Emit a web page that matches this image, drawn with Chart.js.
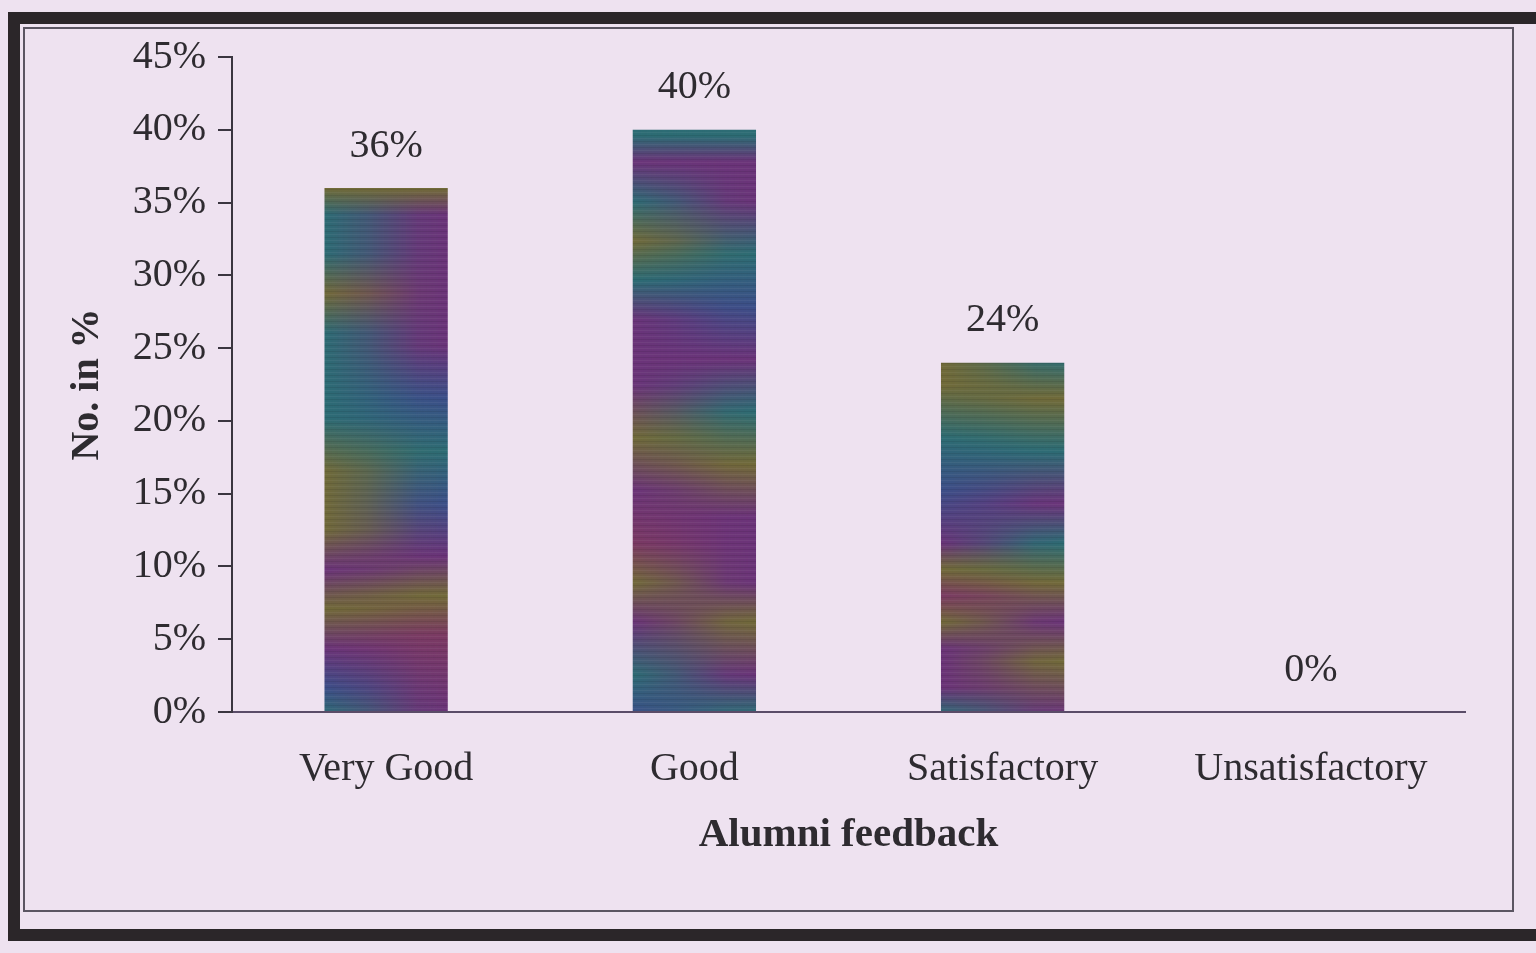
<!DOCTYPE html>
<html>
<head>
<meta charset="utf-8">
<title>Alumni feedback</title>
<script src="https://cdn.jsdelivr.net/npm/chart.js@4/dist/chart.umd.min.js"></script>
<style>
    html, body {
        margin: 0;
        padding: 0;
        width: 1536px;
        height: 953px;
        overflow: hidden;
        background: #eee2f0;
    }
    .frame-outer {
        position: absolute;
        left: 8px;
        top: 12px;
        width: 1600px;
        height: 929px;
        border: 12px solid #2b2629;
        box-sizing: border-box;
    }
    .frame-inner {
        position: absolute;
        left: 23px;
        top: 27px;
        width: 1491px;
        height: 885px;
        border: 2px solid #5b5562;
        box-sizing: border-box;
    }
    #feedbackChart {
        position: absolute;
        left: 0;
        top: 0;
    }
</style>
</head>
<body>
<div class="frame-outer"></div>
<div class="frame-inner"></div>
<canvas id="feedbackChart" width="1536" height="953"></canvas>

<script>
// Alumni feedback survey, share of responses per rating
const categories = ['Very Good', 'Good', 'Satisfactory', 'Unsatisfactory'];
const shares = [36, 40, 24, 0];
const axisMax = 45;
const axisStep = 5;

const FONT = "'Liberation Serif', 'Times New Roman', serif";
const TEXT_COLOR = '#2e2b30';
const BAR_WIDTH = 0.4;

// Colour bands for the shimmering bar fill (left edge / right edge, top to bottom)
const PURPLE = '#6b3479', TEAL = '#2d6c74', OLIVE = '#716a39', BLUE = '#3c4f88', PLUM = '#7b3a63';
const BAR_BANDS = [
    {
        left:  [[0, OLIVE], [0.2, OLIVE], [0.24, TEAL], [0.3, TEAL], [0.36, OLIVE], [0.42, TEAL], [0.55, TEAL], [0.63, OLIVE], [0.72, OLIVE], [0.78, PURPLE], [0.84, OLIVE], [0.9, PURPLE], [0.96, BLUE], [1, TEAL]],
        right: [[0, OLIVE], [0.2, OLIVE], [0.24, PURPLE], [0.36, PURPLE], [0.44, PURPLE], [0.52, BLUE], [0.6, TEAL], [0.68, BLUE], [0.76, PURPLE], [0.82, OLIVE], [0.88, PLUM], [1, PURPLE]]
    },
    {
        left:  [[0, TEAL], [0.12, TEAL], [0.16, PURPLE], [0.22, TEAL], [0.28, OLIVE], [0.34, TEAL], [0.4, PURPLE], [0.5, PURPLE], [0.58, OLIVE], [0.66, PURPLE], [0.74, PLUM], [0.8, OLIVE], [0.86, PURPLE], [0.94, TEAL], [1, BLUE]],
        right: [[0, TEAL], [0.12, TEAL], [0.16, PURPLE], [0.22, PURPLE], [0.3, TEAL], [0.38, BLUE], [0.46, PURPLE], [0.54, TEAL], [0.62, OLIVE], [0.7, PURPLE], [0.8, PURPLE], [0.86, OLIVE], [0.94, PURPLE], [1, TEAL]]
    },
    {
        left:  [[0, OLIVE], [0.46, OLIVE], [0.5, OLIVE], [0.58, TEAL], [0.66, BLUE], [0.74, PURPLE], [0.78, OLIVE], [0.82, PLUM], [0.86, OLIVE], [0.9, PURPLE], [0.96, PURPLE], [1, TEAL]],
        right: [[0, TEAL], [0.46, TEAL], [0.52, OLIVE], [0.6, TEAL], [0.68, PURPLE], [0.74, TEAL], [0.8, OLIVE], [0.86, PURPLE], [0.92, OLIVE], [1, PURPLE]]
    },
    {
        left:  [[0, PURPLE], [1, TEAL]],
        right: [[0, TEAL], [1, PURPLE]]
    }
];

function bandGradient(c, h, stops) {
    const g = c.createLinearGradient(0, 0, 0, h);
    stops.forEach(([pos, col]) => g.addColorStop(pos, col));
    return g;
}

// Build a textured fill for one bar: two band sets blended left to right, plus fine scan lines
function barFill(context) {
    const chart = context.chart;
    const area = chart.chartArea;
    if (!area) return PURPLE;

    const i = context.dataIndex;
    const xScale = chart.scales.x;
    const w = Math.ceil((xScale.width / categories.length) * BAR_WIDTH) + 2;
    const h = Math.ceil(area.bottom - area.top) + 2;
    const left = xScale.getPixelForValue(i) - w / 2;
    const bands = BAR_BANDS[i % BAR_BANDS.length];

    const base = document.createElement('canvas');
    base.width = w;
    base.height = h;
    const bc = base.getContext('2d');
    bc.fillStyle = bandGradient(bc, h, bands.left);
    bc.fillRect(0, 0, w, h);

    const layer = document.createElement('canvas');
    layer.width = w;
    layer.height = h;
    const lc = layer.getContext('2d');
    lc.fillStyle = bandGradient(lc, h, bands.right);
    lc.fillRect(0, 0, w, h);
    lc.globalCompositeOperation = 'destination-in';
    const mask = lc.createLinearGradient(0, 0, w, 0);
    mask.addColorStop(0, 'rgba(0,0,0,0)');
    mask.addColorStop(0.35, 'rgba(0,0,0,0.35)');
    mask.addColorStop(0.75, 'rgba(0,0,0,0.9)');
    mask.addColorStop(1, 'rgba(0,0,0,1)');
    lc.fillStyle = mask;
    lc.fillRect(0, 0, w, h);

    bc.drawImage(layer, 0, 0);

    // scan lines
    for (let y = 0; y < h; y += 3) {
        bc.fillStyle = (y % 6 === 0) ? 'rgba(0,0,0,0.08)' : 'rgba(255,255,255,0.05)';
        bc.fillRect(0, y, w, 1);
    }

    const pattern = chart.ctx.createPattern(base, 'no-repeat');
    pattern.setTransform(new DOMMatrix([1, 0, 0, 1, left, area.top]));
    return pattern;
}

// Value labels above each bar
const valueLabels = {
    id: 'valueLabels',
    afterDatasetsDraw(chart) {
        const ctx = chart.ctx;
        const meta = chart.getDatasetMeta(0);
        ctx.save();
        ctx.font = '40px ' + FONT;
        ctx.fillStyle = TEXT_COLOR;
        ctx.textAlign = 'center';
        ctx.textBaseline = 'middle';
        meta.data.forEach((bar, i) => {
            ctx.fillText(shares[i] + '%', bar.x, bar.y - 42);
        });
        ctx.restore();
    }
};

const ctx = document.getElementById('feedbackChart').getContext('2d');

new Chart(ctx, {
    type: 'bar',
    data: {
        labels: categories,
        datasets: [{
            label: 'Alumni feedback',
            data: shares,
            backgroundColor: barFill,
            borderWidth: 0,
            categoryPercentage: 1,
            barPercentage: BAR_WIDTH
        }]
    },
    options: {
        responsive: false,
        animation: false,
        events: [],
        layout: {
            padding: { left: 64, top: 57, right: 71, bottom: 81 }
        },
        scales: {
            x: {
                grid: { display: false, drawTicks: false },
                border: { display: true, color: '#5a4c68', width: 2 },
                ticks: {
                    padding: 33,
                    color: TEXT_COLOR,
                    font: { family: FONT, size: 40 }
                },
                title: {
                    display: true,
                    text: 'Alumni feedback',
                    color: TEXT_COLOR,
                    font: { family: FONT, size: 41, weight: 'bold' },
                    padding: { top: 0, bottom: 12 }
                },
                afterFit(scale) { scale.height = 160; }
            },
            y: {
                min: 0,
                max: axisMax,
                grid: {
                    drawOnChartArea: false,
                    drawTicks: true,
                    tickLength: 14,
                    color: '#3a3540',
                    lineWidth: 2
                },
                border: { display: true, color: '#3a3540', width: 2 },
                ticks: {
                    stepSize: axisStep,
                    padding: 12,
                    color: TEXT_COLOR,
                    font: { family: FONT, size: 40 },
                    callback: v => v + '%'
                },
                title: {
                    display: true,
                    text: 'No. in %',
                    color: TEXT_COLOR,
                    font: { family: FONT, size: 40, weight: 'bold' },
                    padding: { top: 0, bottom: 0 }
                },
                afterFit(scale) { scale.width = 168; }
            }
        },
        plugins: {
            legend: { display: false },
            tooltip: { enabled: false }
        }
    },
    plugins: [valueLabels]
});
</script>
</body>
</html>
